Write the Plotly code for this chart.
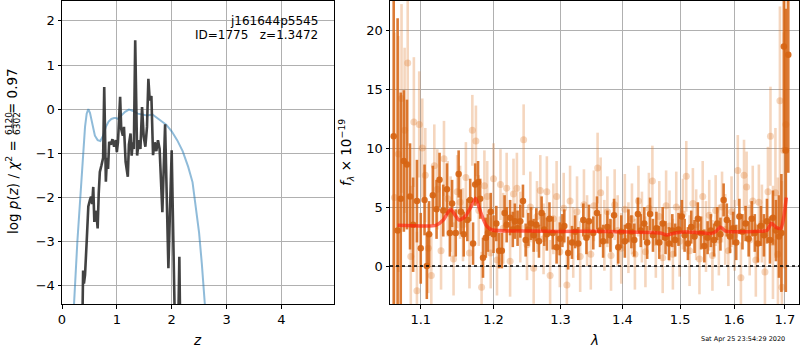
import math
import plotly.graph_objects as go

# ---------------- left panel: p(z) ----------------
z_pz = [0.37, 0.385, 0.40, 0.42, 0.45, 0.48, 0.51, 0.53, 0.55, 0.57, 0.59, 0.61, 0.63, 0.65,
        0.67, 0.69, 0.72, 0.75, 0.77, 0.79, 0.80, 0.82, 0.84, 0.86, 0.89, 0.92, 0.95, 0.98,
        1.00, 1.02, 1.06, 1.08, 1.11, 1.13, 1.16, 1.20, 1.22, 1.25, 1.27, 1.29, 1.31, 1.335,
        1.355, 1.37, 1.40, 1.43, 1.46, 1.49, 1.52, 1.55, 1.575, 1.60, 1.63, 1.66, 1.69, 1.72,
        1.75, 1.78, 1.83, 1.88, 1.94, 2.00, 2.06, 2.10, 2.14, 2.17, 2.30]
logpz = [-5.0, -3.65, -3.95, -3.75, -3.0, -2.2, -2.05, -1.98, -2.15, -1.76, -2.55, -2.3, -2.4, -2.7,
         -1.9, -1.42, -1.27, -1.1, 0.5, -1.2, -1.64, -1.1, -1.35, -0.74, -0.8, -0.68, -0.85, -0.7,
         -0.97, -0.75, 0.28, -0.45, -0.6, -0.4, -1.19, -1.53, -0.8, -0.55, -1.05, -0.75, -0.9, 1.56,
         0.2, -1.05, -0.7, -0.9, 0.05, -0.62, -0.85, -0.4, 0.69, 0.2, 0.3, -1.04, -0.75, -0.95,
         -0.70, -0.9, -2.33, -0.34, -3.6, -0.93, -5.0, -6.5, -3.34, -6.5, -9.0]

z_chi = [0.15, 0.22, 0.28, 0.33, 0.38, 0.42, 0.45, 0.48, 0.51, 0.55, 0.60, 0.65, 0.70, 0.75,
         0.80, 0.85, 0.90, 0.95, 0.98, 1.02, 1.08, 1.15, 1.22, 1.30, 1.38, 1.45, 1.55, 1.65,
         1.72, 1.80, 1.90, 2.00, 2.10, 2.20, 2.30, 2.38, 2.45, 2.50, 2.55, 2.61, 2.70]
chi_pz = [-7.0, -4.4, -3.0, -2.0, -1.0, -0.4, -0.1, 0.0, -0.08, -0.35, -0.6, -0.7, -0.72, -0.6,
          -0.4, -0.28, -0.22, -0.2, -0.2, -0.22, -0.15, -0.06, -0.01, -0.04, -0.1, -0.12, -0.14, -0.12,
          -0.18, -0.25, -0.35, -0.5, -0.7, -0.95, -1.3, -1.65, -2.36, -2.8, -3.5, -4.4, -6.0]

# ---------------- right panel: spectrum ----------------
wl_a = [1.065, 1.070, 1.074, 1.078, 1.082, 1.086, 1.090, 1.095, 1.100, 1.105, 1.108, 1.111,
        1.116, 1.121, 1.125, 1.130, 1.135, 1.139, 1.142, 1.147, 1.151, 1.154, 1.158, 1.163,
        1.167, 1.171, 1.174, 1.178, 1.181, 1.185, 1.189, 1.192, 1.196, 1.200, 1.204, 1.208,
        1.212, 1.216, 1.219, 1.224, 1.228, 1.231, 1.235, 1.239, 1.243, 1.247, 1.251, 1.255,
        1.259, 1.263, 1.267, 1.271, 1.275, 1.279, 1.283, 1.288, 1.294, 1.299, 1.303, 1.306,
        1.312, 1.318, 1.323, 1.328, 1.336, 1.341, 1.345, 1.352, 1.358, 1.363, 1.368, 1.375,
        1.380, 1.386, 1.393, 1.398, 1.404, 1.410, 1.415, 1.420, 1.426, 1.431, 1.437, 1.442,
        1.447, 1.452, 1.458, 1.463, 1.469, 1.474, 1.480, 1.486, 1.491, 1.497, 1.503, 1.508,
        1.514, 1.520, 1.526, 1.532, 1.538, 1.544, 1.550, 1.556, 1.562, 1.568, 1.574, 1.580,
        1.586, 1.592, 1.598, 1.604, 1.610, 1.616, 1.622, 1.628, 1.634, 1.640, 1.646, 1.652,
        1.658, 1.664, 1.670, 1.676, 1.682, 1.688, 1.693, 1.698, 1.702, 1.707]
fl_a = [11.0, 3.0, 5.7, 8.9, 8.6, 5.9, 3.5, 5.5, 1.5, 5.6, 0.0, 2.7,
        6.0, 4.8, 7.3, 4.7, 6.5, 2.8, 5.3, 2.8, 7.8, 4.6, 2.7, 3.9,
        5.6, 1.9, 6.9, 7.1, 5.7, 0.7, 2.4, 2.8, 4.6, 2.7, 3.6, 1.3,
        1.3, 4.5, 3.5, 4.1, 3.1, 3.8, 3.2, 3.8, 5.5, 2.2, 3.1, 3.6,
        2.6, 3.5, 2.1, 4.5, 3.1, 2.7, 4.0, 2.8, 1.6, 2.3, 3.0, 3.4,
        1.1, 2.0, 2.9, 1.9, 3.9, 2.4, 3.8, 2.8, 4.5, 3.0, 2.1, 3.3,
        2.6, 4.3, 1.6, 2.9, 2.1, 3.4, 2.9, 2.2, 4.4, 3.0, 3.6, 2.0,
        4.4, 2.6, 3.2, 2.0, 3.6, 2.4, 1.9, 3.0, 2.2, 3.1, 4.2, 2.6,
        1.9, 3.3, 2.5, 4.0, 2.8, 1.7, 2.4, 3.0, 2.2, 3.6, 2.7, 5.6,
        3.9, 2.5, 3.2, 2.0, 4.2, 2.9, 3.6, 2.3, 4.0, 2.8, 1.9, 3.4,
        2.6, 3.8, 2.2, 4.1, 3.0, 2.5, 2.8, 18.6, 9.8, 17.9]
er_a = [20.0, 18.0, 9.0, 6.0, 5.5, 4.5, 4.0, 3.5, 3.0, 3.0, 2.8, 2.8,
        2.5, 2.5, 2.3, 2.2, 2.2, 2.0, 2.0, 2.0, 2.0, 1.9, 1.9, 1.8,
        1.8, 1.8, 1.8, 1.8, 1.7, 1.7, 1.7, 1.6, 1.6, 1.6, 1.5, 1.5,
        1.5, 1.5, 1.5, 1.5, 1.5, 1.5, 1.5, 1.4, 1.4, 1.4, 1.4, 1.4,
        1.4, 1.4, 1.4, 1.4, 1.4, 1.4, 1.4, 1.4, 1.4, 1.4, 1.4, 1.4,
        1.4, 1.4, 1.4, 1.4, 1.4, 1.4, 1.4, 1.4, 1.4, 1.4, 1.4, 1.4,
        1.4, 1.4, 1.4, 1.4, 1.4, 1.4, 1.4, 1.4, 1.4, 1.4, 1.4, 1.4,
        1.4, 1.4, 1.4, 1.4, 1.4, 1.4, 1.4, 1.4, 1.4, 1.4, 1.4, 1.4,
        1.4, 1.4, 1.4, 1.4, 1.4, 1.4, 1.4, 1.4, 1.4, 1.4, 1.4, 1.4,
        1.4, 1.4, 1.4, 1.5, 1.5, 1.5, 1.5, 1.5, 1.5, 1.6, 1.6, 1.7,
        1.8, 1.9, 2.0, 2.3, 2.6, 3.5, 5.0, 9.0, 12.0, 10.0]

wl_b = [1.066, 1.071, 1.075, 1.079, 1.083, 1.087, 1.091, 1.095, 1.098, 1.102, 1.106, 1.110,
        1.114, 1.118, 1.122, 1.127, 1.131, 1.136, 1.140, 1.144, 1.149, 1.153, 1.157, 1.161,
        1.166, 1.170, 1.175, 1.179, 1.183, 1.187, 1.191, 1.196, 1.200, 1.205, 1.210, 1.214,
        1.219, 1.224, 1.229, 1.234, 1.239, 1.244, 1.249, 1.254, 1.259, 1.264, 1.269, 1.274,
        1.279, 1.284, 1.289, 1.294, 1.299, 1.305, 1.310, 1.315, 1.320, 1.326, 1.331, 1.337,
        1.342, 1.348, 1.353, 1.359, 1.364, 1.370, 1.375, 1.381, 1.387, 1.392, 1.398, 1.404,
        1.410, 1.416, 1.421, 1.427, 1.433, 1.439, 1.445, 1.451, 1.457, 1.463, 1.469, 1.475,
        1.481, 1.487, 1.493, 1.499, 1.505, 1.511, 1.517, 1.523, 1.529, 1.535, 1.541, 1.547,
        1.553, 1.559, 1.565, 1.571, 1.577, 1.583, 1.589, 1.595, 1.601, 1.607, 1.613, 1.619,
        1.624, 1.630, 1.636, 1.642, 1.648, 1.654, 1.660, 1.666, 1.671, 1.676, 1.681, 1.686,
        1.690, 1.694, 1.698, 1.702]
fl_b = [5.8, 9.5, 14.2, 11.5, 17.2, 0.8, 12.2, -2.1, 12.0, 10.0, 7.7, 1.5,
        -0.8, 8.5, 6.5, 1.3, 9.1, 5.7, 4.4, 0.6, 6.3, 5.4, 3.5, 7.5,
        1.1, 11.5, 10.6, 4.7, -1.8, 6.8, 5.9, 1.1, 7.4, 0.5, 6.9, 3.2,
        6.6, 0.4, 6.1, 6.6, 3.3, 10.7, 1.8, 5.0, -0.2, 4.2, 6.4, 2.3,
        6.3, -0.8, 4.0, 5.9, 1.2, 4.9, -1.6, 5.5, 2.0, 4.6, 0.8, 5.2,
        3.0, 1.0, 5.1, 8.3, 6.2, 2.6, 4.6, 0.9, 5.2, 3.0, 1.5, 4.8,
        2.4, 4.0, 1.0, 5.5, 3.3, 1.2, 4.9, 7.2, 2.0, 4.2, 0.7, 5.1,
        3.4, 1.0, 5.0, 2.1, 4.4, 7.6, 1.3, 5.3, 3.5, 0.6, 5.9, 2.5,
        4.3, 0.9, 4.7, 2.2, 5.0, 3.1, 1.3, 4.6, 2.6, 8.1, -1.0, 7.7,
        6.7, 2.2, 5.5, 0.5, 5.4, 3.6, -0.5, 6.3, 11.0, 2.0, 6.2, 1.0,
        14.0, -1.8, 9.8, 12.0]
er_b = [14.0, 10.0, 8.0, 7.0, 7.0, 6.0, 5.5, 5.0, 4.5, 4.2, 4.0, 3.8,
        3.6, 3.5, 3.4, 3.3, 3.2, 3.2, 3.2, 3.1, 3.1, 3.1, 3.1, 3.0,
        3.0, 3.0, 3.0, 3.0, 3.0, 3.0, 3.0, 3.0, 3.0, 3.0, 3.0, 3.0,
        3.0, 3.0, 3.0, 3.0, 3.0, 3.0, 3.0, 3.0, 3.0, 3.0, 3.0, 3.0,
        3.0, 3.0, 3.0, 3.0, 3.0, 3.0, 3.0, 3.0, 3.0, 3.0, 3.0, 3.0,
        3.0, 3.0, 3.0, 3.0, 3.0, 3.0, 3.0, 3.0, 3.0, 3.0, 3.0, 3.0,
        3.0, 3.0, 3.0, 3.0, 3.0, 3.0, 3.0, 3.0, 3.0, 3.0, 3.0, 3.0,
        3.0, 3.0, 3.0, 3.0, 3.0, 3.0, 3.0, 3.0, 3.0, 3.0, 3.0, 3.0,
        3.0, 3.0, 3.0, 3.0, 3.0, 3.0, 3.0, 3.0, 3.0, 3.0, 3.0, 3.0,
        3.0, 3.0, 3.0, 3.1, 3.2, 3.3, 3.5, 3.8, 4.2, 4.8, 5.5, 6.5,
        8.0, 9.0, 10.0, 12.0]

wl_model = [1.070, 1.100, 1.120, 1.130, 1.140, 1.1515, 1.160, 1.168, 1.1745, 1.182, 1.190,
            1.198, 1.250, 1.300, 1.350, 1.400, 1.450, 1.465, 1.476, 1.490, 1.510, 1.530,
            1.555, 1.566, 1.574, 1.584, 1.600, 1.650, 1.664, 1.673, 1.683, 1.692, 1.698, 1.703]
fl_model = [3.45, 3.4, 3.45, 3.9, 4.8, 3.9, 4.2, 5.0, 5.75, 4.5, 3.4,
            3.05, 2.97, 2.92, 2.95, 2.9, 2.85, 2.8, 2.63, 2.8, 2.88, 2.85,
            2.75, 2.95, 3.3, 2.95, 2.9, 2.95, 3.0, 3.63, 3.25, 3.2, 4.2, 5.8]

z_ticks = [0, 1, 2, 3, 4]
pz_ticks = [-4, -3, -2, -1, 0, 1, 2]
wl_ticks = [1.1, 1.2, 1.3, 1.4, 1.5, 1.6, 1.7]
fl_ticks = [0, 5, 10, 15, 20]

W, H = 800, 350
FONT = "DejaVu Sans"


def px(x):
    return x / W


def py(y):
    return 1 - y / H


fig = go.Figure()

fig.add_trace(go.Scatter(x=z_chi, y=chi_pz, mode="lines", xaxis="x", yaxis="y",
                         line=dict(color="rgba(31,119,180,0.5)", width=2), hoverinfo="skip"))
fig.add_trace(go.Scatter(x=z_pz, y=logpz, mode="lines", xaxis="x", yaxis="y",
                         line=dict(color="rgba(45,45,45,0.9)", width=2.6), hoverinfo="skip"))

fig.add_trace(go.Scatter(x=wl_b, y=fl_b, mode="markers", xaxis="x2", yaxis="y2",
                         marker=dict(color="rgba(222,120,40,0.3)", size=7, line=dict(width=0)),
                         error_y=dict(type="data", array=er_b, visible=True, width=0,
                                      thickness=2.6, color="rgba(222,120,40,0.3)"),
                         hoverinfo="skip"))
fig.add_trace(go.Scatter(x=wl_a, y=fl_a, mode="markers", xaxis="x2", yaxis="y2",
                         marker=dict(color="rgba(214,100,18,0.92)", size=6.5, line=dict(width=0)),
                         error_y=dict(type="data", array=er_a, visible=True, width=0,
                                      thickness=2.6, color="rgba(214,100,18,0.85)"),
                         hoverinfo="skip"))
fig.add_trace(go.Scatter(x=wl_model, y=fl_model, mode="lines", xaxis="x2", yaxis="y2",
                         line=dict(color="rgba(255,30,10,0.65)", width=3.5, shape="spline",
                                   smoothing=0.6),
                         hoverinfo="skip"))

axis_common = dict(showgrid=True, gridcolor="#b0b0b0", gridwidth=1, showline=True,
                   linecolor="black", linewidth=1, mirror=True, ticks="outside", ticklen=3.5,
                   tickcolor="black", tickwidth=1, zeroline=False, automargin=False,
                   tickfont=dict(family=FONT, size=13, color="black"))

fig.update_layout(
    width=W, height=H, margin=dict(l=0, r=0, t=0, b=0, autoexpand=False),
    paper_bgcolor="white", plot_bgcolor="white", showlegend=False,
    font=dict(family=FONT, size=13, color="black"),
    xaxis=dict(domain=[px(62), px(334)], range=[0, 4.96], anchor="y",
               tickmode="array", tickvals=z_ticks, **axis_common),
    yaxis=dict(domain=[py(304), py(1)], range=[-4.41, 2.45], anchor="x",
               tickmode="array", tickvals=pz_ticks, **axis_common),
    xaxis2=dict(domain=[px(390), px(799)], type="log",
                range=[math.log10(1.0603), math.log10(1.729)], anchor="y2",
                tickmode="array", tickvals=wl_ticks, ticktext=[str(t) for t in wl_ticks],
                **axis_common),
    yaxis2=dict(domain=[py(304), py(1)], range=[-3.22, 22.46], anchor="x2",
                tickmode="array", tickvals=fl_ticks, **axis_common),
)

# zero line (dotted)
fig.add_shape(type="line", xref="x2 domain", yref="y2", x0=0, x1=1, y0=0, y1=0,
              line=dict(color="black", width=1.6, dash="dot"), layer="above")

ann = []
ann.append(dict(x=px(320), y=py(20.5), xref="paper", yref="paper", text="j161644p5545",
                showarrow=False, xanchor="right", yanchor="middle",
                font=dict(family=FONT, size=12)))
ann.append(dict(x=px(320), y=py(35), xref="paper", yref="paper", text="ID=1775   z=1.3472",
                showarrow=False, xanchor="right", yanchor="middle",
                font=dict(family=FONT, size=12)))
ann.append(dict(x=px(197), y=py(340), xref="paper", yref="paper", text="<i>z</i>",
                showarrow=False, xanchor="center", yanchor="middle",
                font=dict(family=FONT, size=13.5)))
ann.append(dict(x=px(594), y=py(340), xref="paper", yref="paper", text="<i>λ</i>",
                showarrow=False, xanchor="center", yanchor="middle",
                font=dict(family=FONT, size=13.5)))
ann.append(dict(x=px(743), y=py(339), xref="paper", yref="paper",
                text="Sat Apr 25 23:54:29 2020", showarrow=False, xanchor="center",
                yanchor="middle", font=dict(family=FONT, size=6.5)))
# left y label with stacked fraction
ann.append(dict(x=px(12), y=py(187), xref="paper", yref="paper",
                text="log <i>p</i>(<i>z</i>) / <i>χ</i><sup>2</sup> =", textangle=-90,
                showarrow=False, xanchor="center", yanchor="middle",
                font=dict(family=FONT, size=13.5)))
ann.append(dict(x=px(9), y=py(124), xref="paper", yref="paper", text="6120", textangle=-90,
                showarrow=False, xanchor="center", yanchor="middle",
                font=dict(family=FONT, size=9)))
ann.append(dict(x=px(17), y=py(124), xref="paper", yref="paper", text="6302", textangle=-90,
                showarrow=False, xanchor="center", yanchor="middle",
                font=dict(family=FONT, size=9)))
ann.append(dict(x=px(12), y=py(91), xref="paper", yref="paper", text="= 0.97", textangle=-90,
                showarrow=False, xanchor="center", yanchor="middle",
                font=dict(family=FONT, size=13.5)))
# right y label
ann.append(dict(x=px(346), y=py(153), xref="paper", yref="paper",
                text="<i>f</i><sub><i>λ</i></sub> × 10<sup>−19</sup>", textangle=-90,
                showarrow=False, xanchor="center", yanchor="middle",
                font=dict(family=FONT, size=13.5)))
fig.update_layout(annotations=ann)

fig.add_shape(type="line", xref="paper", yref="paper", x0=px(13), x1=px(13),
              y0=py(115), y1=py(133), line=dict(color="black", width=0.8))

fig.write_html("out.html")
